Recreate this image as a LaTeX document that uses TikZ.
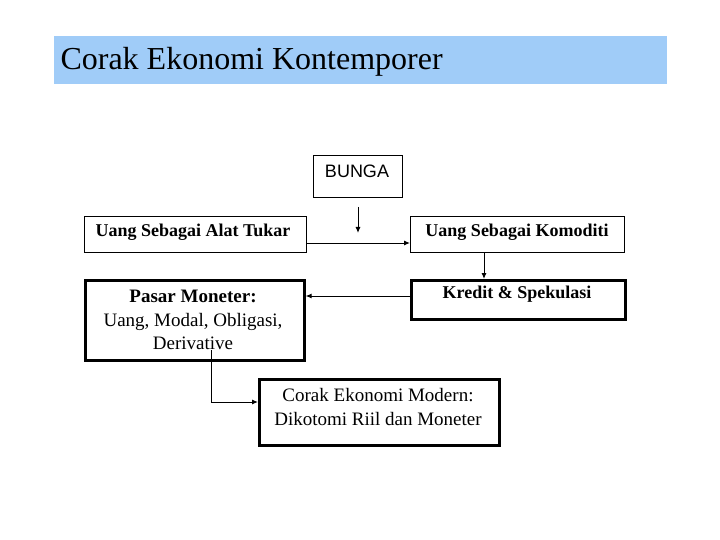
\documentclass[tikz,border=0pt]{standalone}
\usepackage{fontspec}
\setmainfont{Liberation Serif}
\setsansfont{Liberation Sans}
\usetikzlibrary{arrows.meta}
\definecolor{titlebg}{HTML}{A0CCF8}
\begin{document}
\begin{tikzpicture}[x=1pt,y=-1pt,
  box/.style={draw,line width=1pt,inner sep=0pt,anchor=north west},
  thick box/.style={draw,line width=2.6pt,inner sep=0pt,anchor=north west},
  conn/.style={line width=1pt,-{Latex[length=6pt,width=5pt]}}]
\useasboundingbox (0,0) rectangle (720,540);
\node[fill=titlebg,minimum width=613pt,minimum height=48pt,anchor=north west,inner sep=0pt] (title) at (54,36) {};
\node[anchor=west,font=\fontsize{32}{36}\selectfont] (tt) at (57,62) {Corak Ekonomi Kontemporer};
\node[box,minimum width=89pt,minimum height=42pt] (bunga) at (313,155) {};
\node[font=\sffamily\fontsize{18}{20}\selectfont] (bt) at (357,171) {BUNGA};
\coordinate (bs) at (358,207);
\coordinate (be) at (358,233);
\draw[conn] (bs) -- (be);
\node[box,minimum width=222pt,minimum height=36pt] (alat) at (84,216) {};
\node[font=\bfseries\fontsize{18}{20}\selectfont] (at) at (193,232) {Uang Sebagai Alat Tukar};
\node[box,minimum width=214pt,minimum height=36pt] (kom) at (410,216) {};
\node[font=\bfseries\fontsize{18}{20}\selectfont] (kt) at (517,232) {Uang Sebagai Komoditi};
\draw[conn] (alat.east |- 0,243) -- (kom.west |- 0,243);
\node[thick box,minimum width=214pt,minimum height=39pt] (kred) at (410,279) {};
\node[font=\bfseries\fontsize{18}{20}\selectfont] (krt) at (517,294) {Kredit \& Spekulasi};
\draw[conn] (484,252) -- (484,279);
\node[thick box,minimum width=219pt,minimum height=80pt] (pasar) at (84,279) {};
\node[align=center,font=\fontsize{19}{23.5}\selectfont] (pt) at (193,320) {\textbf{Pasar Moneter:}\\Uang, Modal, Obligasi,\\Derivative};
\node[thick box,minimum width=240pt,minimum height=66pt] (mod) at (258,378) {};
\draw[conn] (kred.west |- 0,296) -- (pasar.east |- 0,296);
\node[align=center,font=\fontsize{19}{23.5}\selectfont] (mt) at (378,407) {Corak Ekonomi Modern:\\Dikotomi Riil dan Moneter};
\draw[conn] (211,350) -- (211,402) -- (mod.west |- 0,402);
\end{tikzpicture}
\end{document}
